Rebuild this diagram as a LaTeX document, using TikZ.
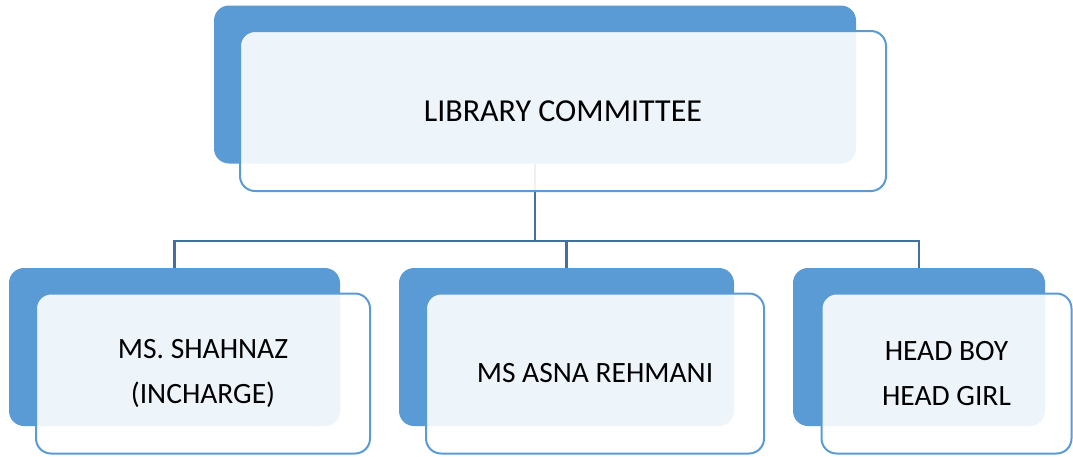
\documentclass[tikz,border=0pt]{standalone}
\usepackage{fontspec}
\setmainfont{Carlito}
\usetikzlibrary{positioning}
\definecolor{boxblue}{HTML}{5B9BD5}
\definecolor{linkblue}{HTML}{41719C}
\begin{document}
\begin{tikzpicture}[x=1pt,y=-1pt,
	back/.style={fill=boxblue, rounded corners=15pt, inner sep=0pt, minimum height=158pt},
	front/.style={draw=boxblue, line width=2pt, fill=white, fill opacity=0.9, text opacity=1,
		rounded corners=15pt, inner sep=0pt, minimum height=160pt, align=center,
		font=\fontsize{29.5}{45}\selectfont},
	link/.style={draw=linkblue, line width=2.8pt}]
			\useasboundingbox (0,0) rectangle (1073,456);

			\node[back, minimum width=642pt] (topback) at (535, 84.5) {};
			\node[back, minimum width=331pt] (b1back) at (174.5, 347) {};
			\node[back, minimum width=335pt] (b2back) at (566.5, 347) {};
			\node[back, minimum width=252pt] (b3back) at (919, 347) {};

			\coordinate (bus) at (535, 241);
			\draw[link] (topback.south) -- (bus);
			\draw[link] (b1back.north) |- (bus) -| (b3back.north);
			\draw[link] (b2back.north) -- (b2back.north |- bus);

			\node[front, minimum width=646pt, font=\fontsize{32}{45}\selectfont] (top) at (563, 111) {LIBRARY COMMITTEE};
			\node[front, minimum width=334pt] (b1) at (203, 373.5) {MS. SHAHNAZ\\(INCHARGE)};
			\node[front, minimum width=338pt] (b2) at (595, 373.5) {MS ASNA REHMANI};
			\node[front, minimum width=250pt] (b3) at (946.5, 373.5) {HEAD BOY\\HEAD GIRL};
		\end{tikzpicture}
\end{document}
